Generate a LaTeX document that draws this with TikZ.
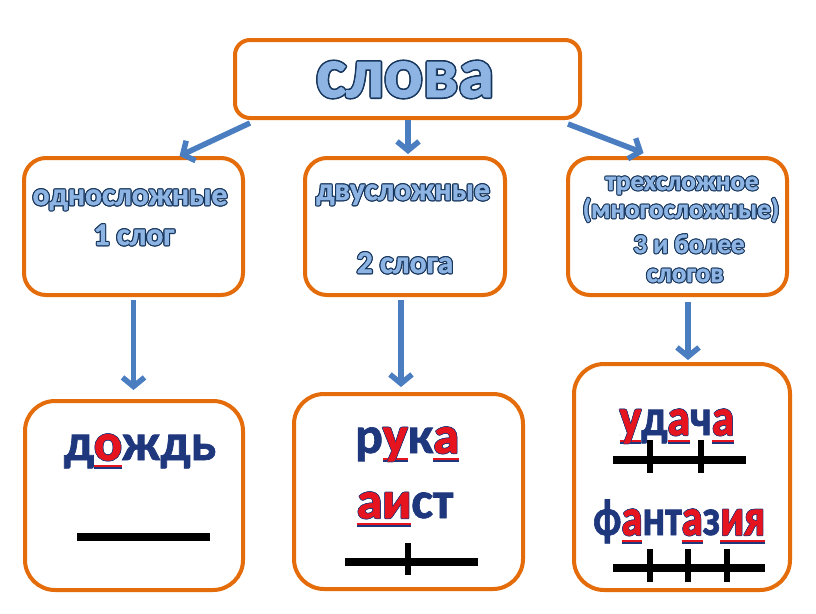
\documentclass[tikz,border=0pt]{standalone}
\usepackage{fontspec}
\setmainfont{Carlito}[BoldFeatures={FakeBold=1.3}]
\usetikzlibrary{arrows.meta}
\definecolor{orng}{RGB}{228,108,10}
\definecolor{arrb}{RGB}{74,126,193}
\definecolor{lblue}{RGB}{141,180,226}
\definecolor{dblue}{RGB}{23,54,93}
\definecolor{navyc}{RGB}{30,55,125}
\definecolor{redc}{RGB}{230,20,30}
\newlength\olw
\newcommand\ocp[2]{\rlap{\kern#1\raise#2\copy0}}
\newcommand\olin[3]{\begingroup\setbox0\hbox{#3}%
 \color{#1}%
 \ocp{\olw}{0pt}\ocp{-\olw}{0pt}\ocp{0pt}{\olw}\ocp{0pt}{-\olw}%
 \ocp{.7\olw}{.7\olw}\ocp{-.7\olw}{.7\olw}\ocp{.7\olw}{-.7\olw}\ocp{-.7\olw}{-.7\olw}%
 \color{#2}\copy0\endgroup}
\newcommand\rl[1]{\setbox4\hbox{\olin{navyc}{redc}{#1}}%
 \rlap{\color{navyc}\rule[-0.17em]{\wd4}{0.05em}}%
 \rlap{\color{redc}\rule[-0.14em]{\wd4}{0.05em}}\box4}
\tikzset{
 box/.style={draw=orng, line width=4pt, fill=white, rounded corners=#1, inner sep=0pt},
 box/.default=22pt,
 arr/.style={draw=arrb, line width=5.5pt, -{Straight Barb[length=9pt,width=22pt]}},
 bar/.style={line width=8pt, black},
 tck/.style={line width=6pt, black},
 up/.style={font=\bfseries\fontsize{31.5}{33}\selectfont, inner sep=0pt, anchor=base},
 upc/.style={font=\bfseries\fontsize{27}{30}\selectfont, inner sep=0pt, anchor=base},
 low/.style={font=\bfseries\fontsize{52}{56}\selectfont, text=navyc, inner sep=0pt, anchor=base},
}
\begin{document}
\begin{tikzpicture}[x=1pt,y=-1pt]
\useasboundingbox[fill=white] (0,0) rectangle (816,613);
% boxes
\node[box=15pt, minimum width=345pt, minimum height=78pt] (top) at (407.5,79) {};
\node[box, minimum width=219pt, minimum height=137pt] (b1) at (133.5,226.5) {};
\node[box, minimum width=200pt, minimum height=137pt] (b2) at (405,226.5) {};
\node[box, minimum width=219pt, minimum height=137pt] (b3) at (677.5,226.5) {};
\node[box=30pt, minimum width=218pt, minimum height=189pt] (b4) at (134,495.5) {};
\node[box=30pt, minimum width=229pt, minimum height=195pt] (b5) at (408.5,491.5) {};
\node[box=30pt, minimum width=216pt, minimum height=226pt] (b6) at (682,477) {};
% arrows
\draw[arr] ([shift={(17,3)}]top.south west) -- ([shift={(46,0)}]b1.north);
\draw[arr, shorten >=2pt] ([xshift=0.5pt]top.south) -- ([xshift=0.5pt]top.south |- b2.north);
\draw[arr] ([shift={(-14,4)}]top.south east) -- ([shift={(-34,-3)}]b3.north);
\draw[arr, shorten <=3pt, shorten >=9pt] (b1.south) -- (b1.south |- b4.north);
\draw[arr, shorten <=3pt, shorten >=5pt] ([xshift=-4pt]b2.south) -- ([xshift=-4pt]b2.south |- b5.north);
\draw[arr, shorten <=5pt, shorten >=2pt] ([xshift=10.5pt]b3.south) -- ([xshift=10.5pt]b3.south |- b6.north);
% upper texts
\node[up, font=\bfseries\fontsize{72}{76}\selectfont] (t0) at (405,97) {\olw=1.6pt\olin{dblue}{lblue}{слова}};
\node[up] (t1a) at (130,205) {\olw=1.2pt\olin{dblue}{lblue}{односложные}};
\node[up] (t1b) at (134,245) {\olw=1.2pt\olin{dblue}{lblue}{1 слог}};
\node[up] (t2a) at (403,200) {\olw=1.2pt\olin{dblue}{lblue}{двусложные}};
\node[up] (t2b) at (405,273) {\olw=1.2pt\olin{dblue}{lblue}{2 слога}};
\node[upc] (t3a) at (682,190) {\olw=1.1pt\olin{dblue}{lblue}{трехсложное}};
\node[upc] (t3b) at (681,218) {\olw=1.1pt\olin{dblue}{lblue}{(многосложные)}};
\node[upc] (t3c) at (689,253) {\olw=1.1pt\olin{dblue}{lblue}{3 и более}};
\node[upc] (t3d) at (685,282) {\olw=1.1pt\olin{dblue}{lblue}{слогов}};
% lower words
\node[low] (w1) at (140,460) {\olw=0.7pt д\rl{о}ждь};
\node[low] (w2) at (407,453) {\olw=0.7pt р\rl{у}к\rl{а}};
\node[low] (w3) at (405,518) {\olw=0.7pt \rl{а}\rl{и}ст};
\node[low] (w4) at (677,435) {\olw=0.7pt \scalebox{0.87}[1]{\rl{у}д\rl{а}ч\rl{а}}};
\node[low] (w5) at (679,535) {\olw=0.7pt \scalebox{0.81}[1]{ф\rl{а}нт\rl{а}з\rl{и}\rl{я}}};
% syllable schemes
\draw[bar] (77,537) -- (210,537);
\draw[bar] (345,562) -- (478,562);
\draw[tck] (408,543) -- (408,575);
\draw[bar] (613,460) -- (746,460);
\draw[tck] (650,440) -- (650,473);
\draw[tck] (701,440) -- (701,473);
\draw[bar] (613,568) -- (765,568);
\draw[tck] (650,549) -- (650,582);
\draw[tck] (688,549) -- (688,582);
\draw[tck] (727,549) -- (727,582);
\end{tikzpicture}
\end{document}
